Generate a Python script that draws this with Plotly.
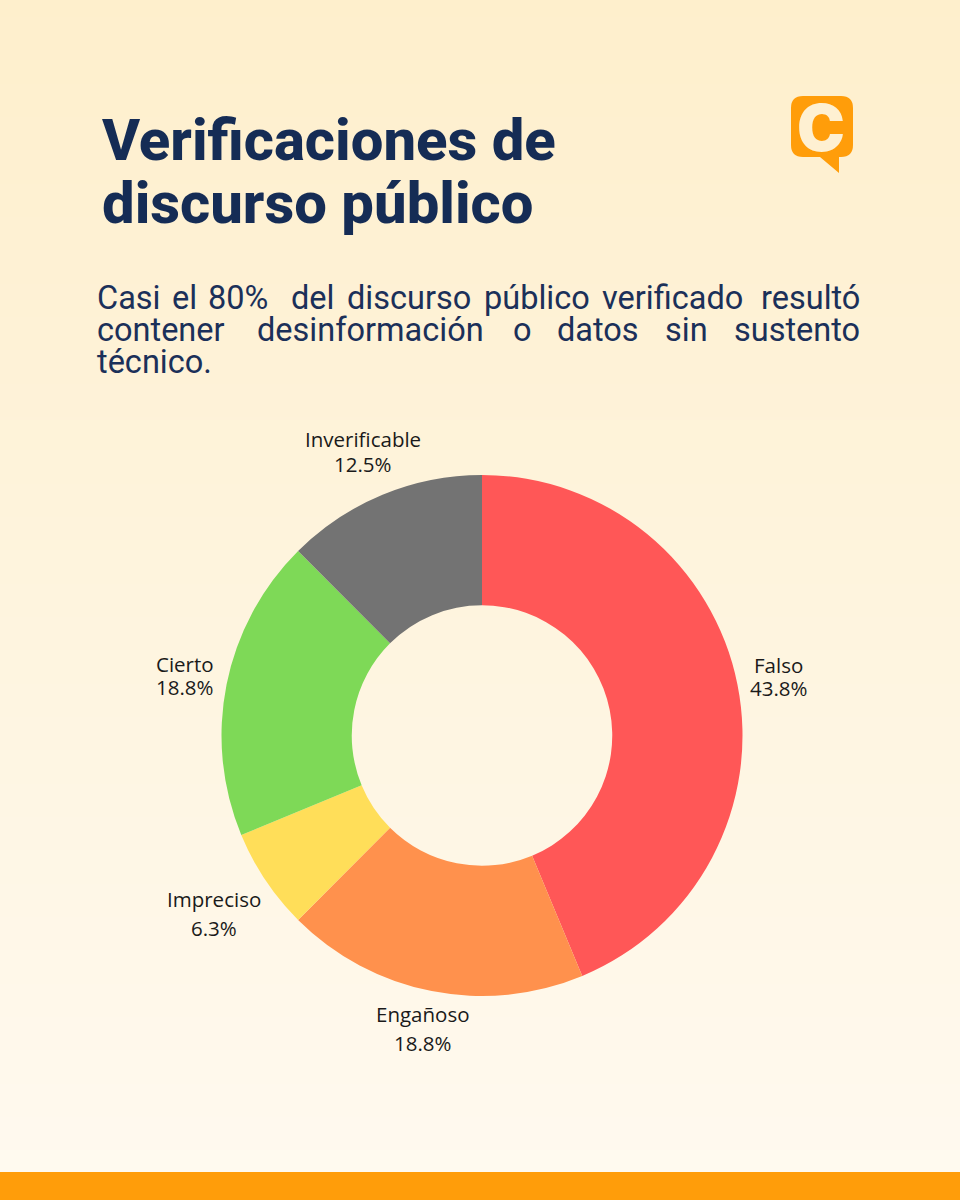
import plotly.graph_objects as go

categories = ["Falso", "Engañoso", "Impreciso", "Cierto", "Inverificable"]
values = [43.8, 18.8, 6.3, 18.8, 12.5]
value_labels = ["43.8%", "18.8%", "6.3%", "18.8%", "12.5%"]
slice_colors = ["#FF5757", "#FF914D", "#FFDE59", "#7ED957", "#737373"]

title_lines = ["Verificaciones de", "discurso público"]
body_words = [
    ["Casi", "el", "80%", "del", "discurso", "público", "verificado", "resultó"],
    ["contener", "desinformación", "o", "datos", "sin", "sustento"],
    ["técnico."],
]

W, H = 960, 1200
NAVY = "#1B3059"
ORANGE = "#FF9D0A"
CREAM = "#FEF0D2"

# label anchors: (x centre, first line y, second line y)
label_pos = [
    (778.5, 665, 688),
    (423, 1014, 1043),
    (213.5, 899, 928),
    (185, 664, 687),
    (363, 439, 464),
]
# justified body text, so every word gets its own left edge
word_x = [
    [95, 170, 206, 289, 345, 482, 600, 759],
    [95, 255, 511, 555, 663, 732],
    [95],
]
body_y = [298, 330, 362]

fig = go.Figure()

# page background, light cream fading downwards
fig.add_trace(go.Heatmap(
    x=[0, W], y=[0, 600, H], z=[[0, 0], [0.5, 0.5], [1, 1]],
    zsmooth="best", showscale=False, hoverinfo="skip", zmin=0, zmax=1,
    colorscale=[[0, "#FEEFCC"], [0.5, "#FEF4DE"], [1, "#FFFAF0"]],
))

fig.add_trace(go.Pie(
    labels=categories, values=values, hole=0.5, sort=False, direction="clockwise", rotation=0,
    marker=dict(colors=slice_colors, line=dict(width=0)), textinfo="none", showlegend=False,
    domain=dict(x=[(482 - 261) / W, (482 + 261) / W], y=[1 - (735.5 + 260.5) / H, 1 - (735.5 - 260.5) / H]),
))

annotations = []


def add_text(text, x, y, size, color, family, anchor="left", weight=400):
    annotations.append(dict(
        text=text, x=x, y=y, xref="x", yref="y", xanchor=anchor, yanchor="middle", showarrow=False,
        font=dict(size=size, color=color, family=family, weight=weight),
    ))


for line, y in zip(title_lines, [140, 203]):
    add_text(line, 99.5, y, 58, "#152C55", "Roboto", weight=800)

for words, xs, y in zip(body_words, word_x, body_y):
    for word, x in zip(words, xs):
        add_text(word, x, y, 32.5, NAVY, "Roboto", weight=400)

for name, pct, (x, y1, y2) in zip(categories, value_labels, label_pos):
    add_text(name, x, y1, 20.5, "#1A1A1A", "Open Sans", anchor="center")
    add_text(pct, x, y2, 20.5, "#1A1A1A", "Open Sans", anchor="center")

# logo glyph
add_text("C", 821, 127, 64, CREAM, "Inter", anchor="center", weight=900)

bubble = (
    "M 803,96 L 841,96 Q 853,96 853,108 L 853,145 Q 853,157 841,157 L 839,157 L 839,173 "
    "L 820,157 L 803,157 Q 791,157 791,145 L 791,108 Q 791,96 803,96 Z"
)

fig.update_layout(
    width=W, height=H, margin=dict(l=0, r=0, t=0, b=0),
    paper_bgcolor=CREAM, plot_bgcolor=CREAM,
    xaxis=dict(range=[0, W], visible=False, fixedrange=True),
    yaxis=dict(range=[H, 0], visible=False, fixedrange=True),
    annotations=annotations,
    shapes=[
        dict(type="rect", x0=0, x1=W, y0=1172, y1=H, xref="x", yref="y", fillcolor=ORANGE, line_width=0),
        dict(type="path", path=bubble, xref="x", yref="y", fillcolor=ORANGE, line_width=0),
    ],
)

fig.write_html("out.html", post_script="document.body.style.margin='0';", config=dict(displayModeBar=False))
